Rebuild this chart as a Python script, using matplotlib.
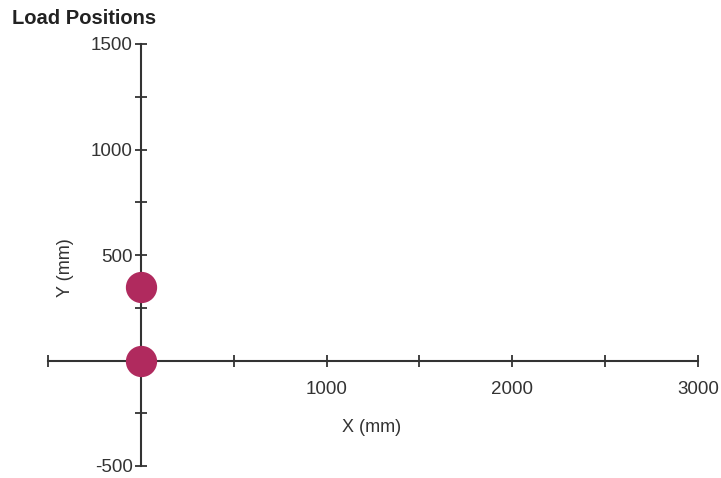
import matplotlib
matplotlib.use("Agg")
import matplotlib.pyplot as plt

plt.rcParams['font.family'] = ['Liberation Sans', 'DejaVu Sans']

# load positions (mm)
load_x = [0, 0]
load_y = [0, 350]

x_ticks = [-500, 0, 500, 1000, 1500, 2000, 2500, 3000]
x_labels = ['', '', '', '1000', '', '2000', '', '3000']
y_ticks = [-500, -250, 0, 250, 500, 750, 1000, 1250, 1500]
y_labels = ['-500', '', '', '', '500', '', '1000', '', '1500']

fig = plt.figure(figsize=(7.21, 4.78), dpi=100)
ax = fig.add_axes([48/721, 1-466/478, 650/721, 422/478])

ax.plot(load_x, load_y, 'o', color='#B02A5E', markersize=21.5, zorder=5, clip_on=False)

ax.set_xlim(-500, 3000)
ax.set_ylim(-500, 1500)

for s in ['top', 'right']:
    ax.spines[s].set_visible(False)
ax.spines['left'].set_position(('data', 0))
ax.spines['bottom'].set_position(('data', 0))
for s in ['left', 'bottom']:
    ax.spines[s].set_color('#333333')
    ax.spines[s].set_linewidth(1.5)

ax.set_xticks(x_ticks)
ax.set_xticklabels(x_labels)
ax.set_yticks(y_ticks)
ax.set_yticklabels(y_labels)
ax.tick_params(direction='inout', length=8, width=1.3, color='#333333',
               labelsize=13.5, labelcolor='#333333', pad=11)
ax.tick_params(axis='y', pad=2)

fig.text(12/721, 1-18/478, 'Load Positions', fontsize=14.5, fontweight='bold',
         color='#222222', va='center', ha='left')
fig.text(372/721, 1-427/478, 'X (mm)', fontsize=13, color='#333333', ha='center', va='center')
fig.text(65/721, 1-268/478, 'Y (mm)', fontsize=13, color='#333333', ha='center', va='center',
         rotation=90)

fig.savefig('out.png', dpi=100)
